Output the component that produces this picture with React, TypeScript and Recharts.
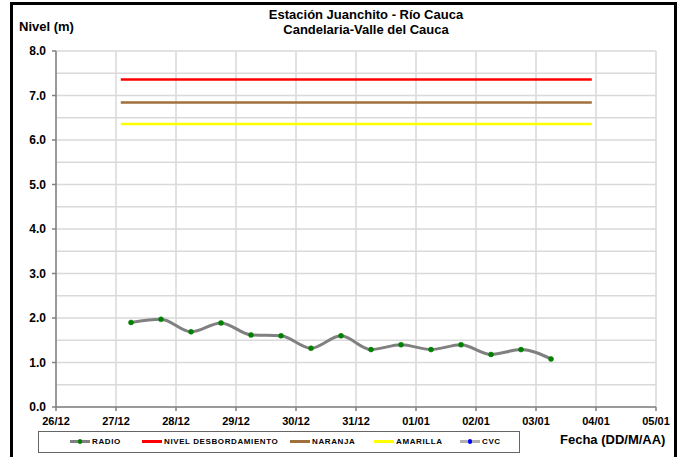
import {
  ComposedChart,
  Line,
  XAxis,
  YAxis,
  CartesianGrid,
  ReferenceLine,
} from "recharts";

// x is measured in days since 26/12
const dayLabels = ["26/12", "27/12", "28/12", "29/12", "30/12", "31/12", "01/01", "02/01", "03/01", "04/01", "05/01"];
const dayTicks = [0, 1, 2, 3, 4, 5, 6, 7, 8, 9, 10];
const levelTicks = [0, 1, 2, 3, 4, 5, 6, 7, 8];
const minorLevels = [0.5, 1.5, 2.5, 3.5, 4.5, 5.5, 6.5, 7.5];

// RADIO readings (06:00 and 18:00 each day)
const radioTimes = [1.25, 1.75, 2.25, 2.75, 3.25, 3.75, 4.25, 4.75, 5.25, 5.75, 6.25, 6.75, 7.25, 7.75, 8.25];
const radioLevels = [1.9, 1.97, 1.69, 1.89, 1.62, 1.6, 1.32, 1.6, 1.29, 1.4, 1.29, 1.4, 1.18, 1.29, 1.08];

// alert thresholds
const thresholdSpan = [1.08, 8.93];
const desbordamiento = 7.36;
const naranja = 6.84;
const amarilla = 6.36;

const radioData = radioTimes.map((t, i) => ({ t, v: radioLevels[i] }));
const flat = (v: number) => thresholdSpan.map((t) => ({ t, v }));

const FONT = "'Liberation Sans', Arial, sans-serif";

function LegendSample({ color, dot }: { color: string; dot?: string }) {
  return (
    <span style={{ position: "relative", display: "inline-block", width: 20, height: 3, background: color, marginRight: 2, verticalAlign: "middle" }}>
      {dot && (
        <span style={{ position: "absolute", left: 8, top: -1, width: 4, height: 5, borderRadius: 2, background: dot }} />
      )}
    </span>
  );
}

export default function App() {
  const legendItems = [
    { label: "RADIO", color: "#808080", dot: "#008000", left: 70 },
    { label: "NIVEL DESBORDAMIENTO", color: "#ff0000", left: 142 },
    { label: "NARANJA", color: "#a0703c", left: 290 },
    { label: "AMARILLA", color: "#ffff00", left: 374 },
    { label: "CVC", color: "#b0b0b0", dot: "#0000ff", left: 460 },
  ];

  return (
    <div style={{ position: "absolute", left: 0, top: 0, width: 684, height: 457, background: "#fff", fontFamily: FONT, overflow: "hidden" }}>
      <div style={{ position: "absolute", left: 10, top: 2, width: 667, height: 470, border: "3px solid #000", boxSizing: "border-box" }} />
      <div style={{ position: "absolute", left: 0, width: 732, top: 7, textAlign: "center", fontWeight: "bold", fontSize: 13, lineHeight: "15px", color: "#000" }}>
        <div>Estación Juanchito - Río Cauca</div>
        <div>Candelaria-Valle del Cauca</div>
      </div>
      <div style={{ position: "absolute", left: 19, top: 19, fontWeight: "bold", fontSize: 13, color: "#000" }}>Nivel (m)</div>

      <ComposedChart
        width={684}
        height={457}
        margin={{ top: 51, right: 28, left: 0, bottom: 30 }}
        style={{ position: "absolute", left: 0, top: 0 }}
      >
        <CartesianGrid stroke="#d9d9d9" strokeWidth={1.5} />
        {minorLevels.map((v) => (
          <ReferenceLine key={v} y={v} stroke="#d9d9d9" strokeWidth={1.5} />
        ))}
        <XAxis
          type="number"
          dataKey="t"
          domain={[0, 10]}
          ticks={dayTicks}
          tickFormatter={(v: number) => dayLabels[v]}
          interval={0}
          height={20}
          tickSize={4}
          tickMargin={6}
          stroke="#808080"
          strokeWidth={1.5}
          tick={{ fill: "#000", fontSize: 11, fontWeight: "bold", fontFamily: FONT }}
          allowDuplicatedCategory={false}
        />
        <YAxis
          type="number"
          domain={[0, 8]}
          ticks={levelTicks}
          tickFormatter={(v: number) => v.toFixed(1)}
          width={56}
          tickSize={4}
          tickMargin={6}
          stroke="#808080"
          strokeWidth={1.5}
          tick={{ fill: "#000", fontSize: 12, fontWeight: "bold", fontFamily: FONT }}
        />
        <Line data={flat(amarilla)} dataKey="v" type="linear" stroke="#ffff00" strokeWidth={2.5} dot={false} isAnimationActive={false} />
        <Line data={flat(naranja)} dataKey="v" type="linear" stroke="#a0703c" strokeWidth={2.5} dot={false} isAnimationActive={false} />
        <Line data={flat(desbordamiento)} dataKey="v" type="linear" stroke="#ff0000" strokeWidth={2.5} dot={false} isAnimationActive={false} />
        <Line
          data={radioData}
          dataKey="v"
          type="monotone"
          stroke="#808080"
          strokeWidth={3}
          dot={{ r: 2.5, fill: "#008000", stroke: "#008000", strokeWidth: 0.5 }}
          isAnimationActive={false}
        />
      </ComposedChart>

      <div style={{ position: "absolute", left: 38, top: 431, width: 482, height: 22, border: "1.5px solid #666", boxSizing: "border-box" }} />
      {legendItems.map((it) => (
        <div
          key={it.label}
          style={{ position: "absolute", left: it.left, top: 437, fontSize: 8, fontWeight: "bold", lineHeight: "10px", whiteSpace: "nowrap", letterSpacing: 0.6, color: "#000" }}
        >
          <LegendSample color={it.color} dot={it.dot} />
          {it.label}
        </div>
      ))}
      <div style={{ position: "absolute", left: 560, top: 432, fontWeight: "bold", fontSize: 13, color: "#000" }}>Fecha (DD/M/AA)</div>
    </div>
  );
}
